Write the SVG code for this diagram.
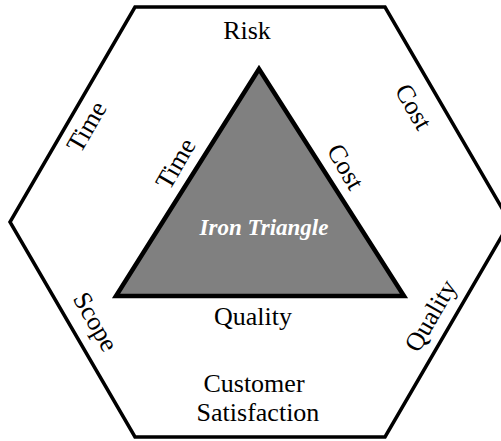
<svg xmlns="http://www.w3.org/2000/svg" width="501" height="441" viewBox="0 0 501 441">
<style>
.t{font-family:"Liberation Serif","Times New Roman",serif;font-size:26px;fill:#000;text-anchor:middle}
.it{font-family:"Liberation Serif","Times New Roman",serif;font-size:23px;font-weight:bold;font-style:italic;fill:#fff;text-anchor:middle}
</style>
<rect width="501" height="441" fill="#fff"/>
<g id="hexagon">
<polygon points="135,7 385,7 510,222 385,437 135,437 10,222" fill="#fff" stroke="#000" stroke-width="3.5" stroke-linejoin="miter"/>
<text class="t" x="247" y="39">Risk</text>
<text class="t" transform="translate(87,127) rotate(-60)" y="8">Time</text>
<text class="t" transform="translate(413,107) rotate(60)" y="8">Cost</text>
<text class="t" transform="translate(95,322) rotate(60)" y="8">Scope</text>
<text class="t" transform="translate(431,316) rotate(-60)" y="8">Quality</text>
<text class="t" x="254" y="392">Customer</text>
<text class="t" x="258" y="421">Satisfaction</text>
</g>
<g id="triangle">
<polygon points="259,69 116,296 404,296" fill="#808080" stroke="#000" stroke-width="4.5" stroke-linejoin="miter"/>
<text class="it" x="264" y="235">Iron Triangle</text>
<text class="t" transform="translate(176,164) rotate(-60)" y="8">Time</text>
<text class="t" transform="translate(345,167) rotate(60)" y="8">Cost</text>
<text class="t" x="253" y="325">Quality</text>
</g>
</svg>
